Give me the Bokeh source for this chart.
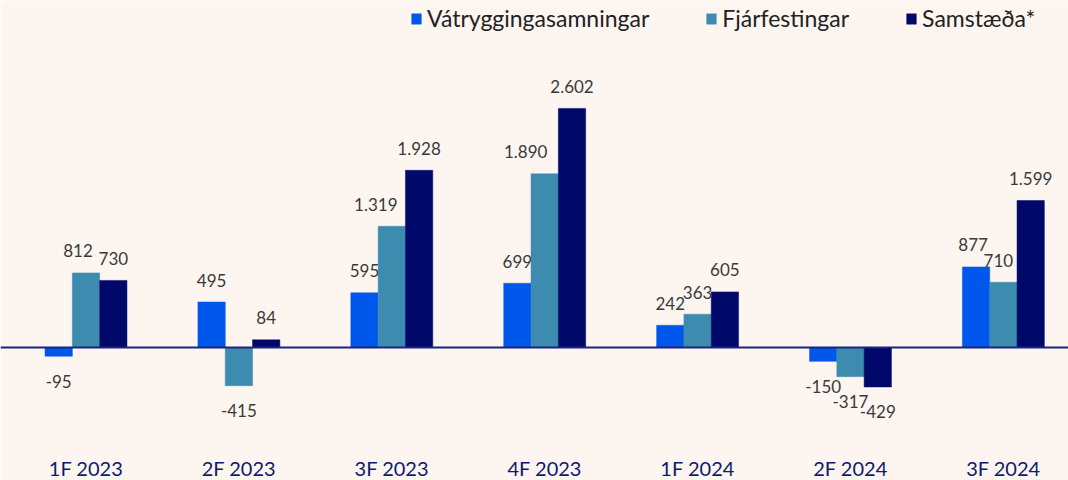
from bokeh.plotting import figure
from bokeh.models import ColumnDataSource, Span, Legend, LegendItem, Range1d
from bokeh.core.properties import value
from bokeh.embed import file_html
from bokeh.resources import INLINE

categories = ["1F 2023", "2F 2023", "3F 2023", "4F 2023", "1F 2024", "2F 2024", "3F 2024"]
series_names = ["Vátryggingasamningar", "Fjárfestingar", "Samstæða*"]
vatrygg = [-95, 495, 595, 699, 242, -150, 877]
fjarfest = [812, -415, 1319, 1890, 363, -317, 710]
samstaeda = [730, 84, 1928, 2602, 605, -429, 1599]
colors = ["#0057EC", "#3D8CB0", "#00086A"]

# label nudges (px) to avoid collisions, as in the original chart
label_nudge = {(1, 0): -8, (1, 2): -16, (1, 3): -19, (1, 6): -5, (0, 6): -3}

BG = "#FCF5F0"
FONT = "Lato"

def fmt(v):
    s = f"{abs(v):,}".replace(",", ".")
    return ("-" if v < 0 else "") + s

p = figure(width=1068, height=480, output_backend="svg", toolbar_location=None,
           x_range=Range1d(-0.5592, 6.4259), y_range=Range1d(-1447, 3776),
           background_fill_color=BG, border_fill_color=BG,
           min_border_left=0, min_border_right=0, min_border_top=0, min_border_bottom=0)
p.outline_line_color = None
p.grid.visible = False
p.xaxis.visible = False
p.yaxis.visible = False

p.add_layout(Span(location=0, dimension="width", line_color="#1A2580", line_width=2))

bw = 0.1786
items = []
label_sources = []
for k, (name, vals, col) in enumerate(zip(series_names, [vatrygg, fjarfest, samstaeda], colors)):
    off = (k - 1) * bw
    xs = [i + off for i in range(len(categories))]
    src = ColumnDataSource(dict(
        x=xs, top=vals,
        lab=[fmt(v) for v in vals],
        yo=[-22 if v >= 0 else 25 for v in vals],
        xo=[label_nudge.get((k, i), 0) for i in range(len(vals))],
    ))
    r = p.vbar(x="x", top="top", bottom=0, width=bw, source=src,
               fill_color=col, line_color=col, line_width=0.5)
    items.append(LegendItem(label=name, renderers=[r]))
    label_sources.append(src)

for src in label_sources:
    p.text(x="x", y="top", text="lab", source=src, y_offset="yo", x_offset="xo",
           text_align="center", text_baseline="middle",
           text_font=value(FONT), text_font_size="17px", text_color="#3A3A3A")

cat_src = ColumnDataSource(dict(x=list(range(len(categories))), y=[0] * len(categories), t=categories))
p.text(x="x", y="y", text="t", source=cat_src, y_offset=120.5,
       text_align="center", text_baseline="middle",
       text_font=value(FONT), text_font_size="20px", text_color="#0D1B6E")

legend = Legend(items=items, orientation="horizontal", location=(410, 448),
                background_fill_alpha=0, border_line_color=None,
                label_text_font=FONT, label_text_font_size="23px", label_text_color="#222222",
                glyph_width=12, glyph_height=13, spacing=56, label_standoff=5,
                padding=0, margin=0)
p.add_layout(legend)

open("out.html", "w").write(file_html(p, INLINE))
